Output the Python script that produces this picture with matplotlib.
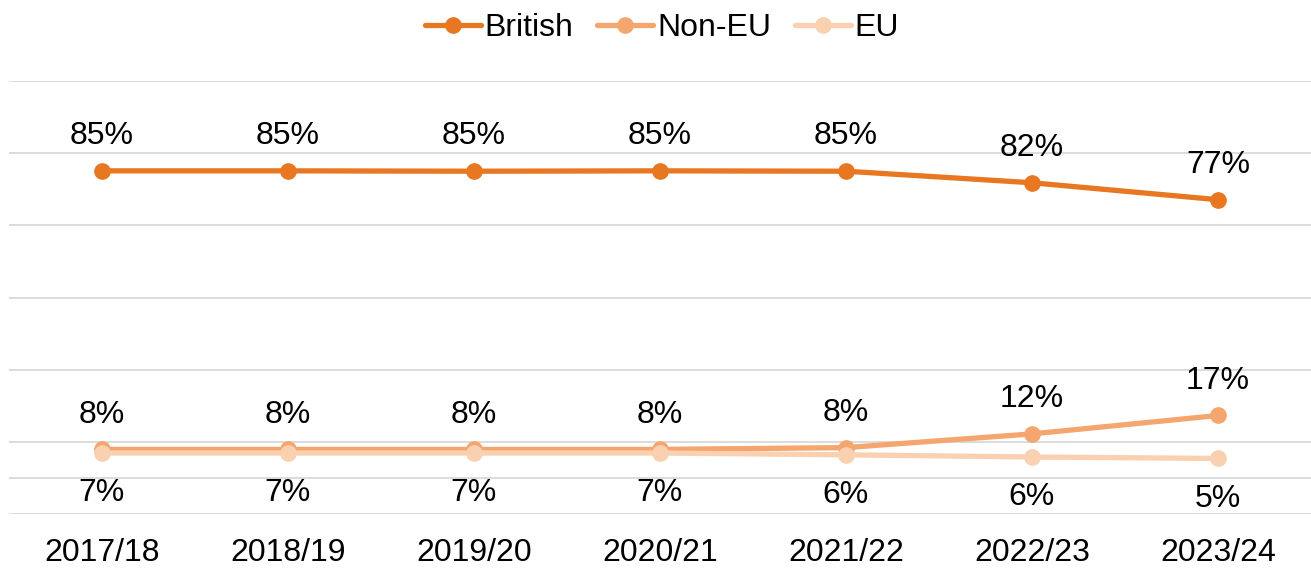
import matplotlib
matplotlib.use("Agg")
import matplotlib.pyplot as plt

years = ["2017/18", "2018/19", "2019/20", "2020/21", "2021/22", "2022/23", "2023/24"]
british = [85.1, 85.1, 85.0, 85.1, 85.0, 81.8, 77.1]
non_eu = [7.9, 7.9, 7.9, 7.9, 8.4, 12.2, 17.3]
eu = [6.9, 6.9, 6.9, 6.9, 6.4, 5.8, 5.4]
gridlines = [-10, 0, 10, 30, 50, 70, 90, 110]

plt.rcParams['font.family'] = ['Liberation Sans', 'DejaVu Sans']
FS = 23

fig = plt.figure(figsize=(13.11, 5.68), dpi=100)
ax = fig.add_axes([9 / 1311, 1 - 514 / 568, 1 - 9 / 1311, (514 - 81) / 568])

x = list(range(len(years)))
series = [
    ("British", british, "#E87722", "above"),
    ("Non-EU", non_eu, "#F4A66E", "above"),
    ("EU", eu, "#F9D0B0", "below"),
]
for name, vals, col, pos in series:
    ax.plot(x, vals, color=col, lw=3.8, marker="o", ms=11, label=name,
            solid_capstyle="round", zorder=3)
    for xi, v in zip(x, vals):
        off = 25 if pos == "above" else -29
        ax.annotate(f"{round(v)}%", (xi, v), xytext=(0, off), textcoords="offset points",
                    ha="center", va="center", fontsize=FS, color="black")

for g in gridlines:
    ax.axhline(g, color="#d9d9d9", lw=1.3, zorder=1)

ax.set_xlim(-0.5, len(years) - 0.5)
ax.set_ylim(-10, 110)
ax.set_xticks(x)
ax.set_xticklabels(years, fontsize=FS)
ax.tick_params(axis="x", length=0, pad=17)
ax.set_yticks([])
for s in ax.spines.values():
    s.set_visible(False)

fig.legend(loc="center", bbox_to_anchor=(0.505, 1 - 28 / 568), ncol=3, frameon=False,
           fontsize=FS, handlelength=1.75, handletextpad=0.12, columnspacing=0.75,
           markerscale=1.0, borderpad=0)

fig.savefig("out.png", dpi=100)
